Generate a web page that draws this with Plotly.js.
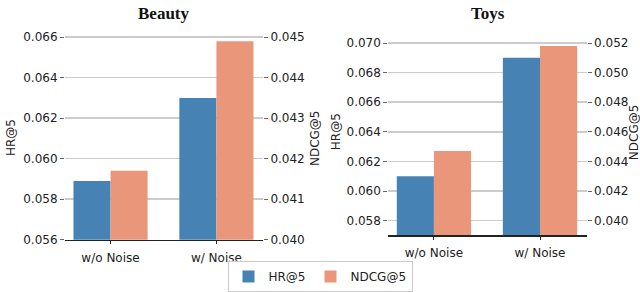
<!DOCTYPE html>
<html>
<head>
<meta charset="utf-8">
<script src="https://cdn.plot.ly/plotly-3.0.1.min.js"></script>
<style>html,body{margin:0;padding:0;background:#fff;overflow:hidden;}#chart{width:640px;height:292px;}</style>
</head>
<body>
<div id="chart"></div>
<script>
const categories = ['w/o Noise', 'w/ Noise'];
const datasets = ['Beauty', 'Toys'];
const beautyHR = [0.0589, 0.0630];
const beautyNDCG = [0.0417, 0.0449];
const toysHR = [0.0610, 0.0690];
const toysNDCG = [0.0447, 0.0518];
const seriesNames = ['HR@5', 'NDCG@5'];

const blue = '#4682B4';
const salmon = '#E9967A';
const bw = 0.35;

const traces = [
  {type:'bar', x:categories, y:beautyHR, name:seriesNames[0], xaxis:'x', yaxis:'y', marker:{color:blue}, width:bw, offset:-bw, legendgroup:'hr'},
  {type:'bar', x:categories, y:beautyNDCG, name:seriesNames[1], xaxis:'x', yaxis:'y2', marker:{color:salmon}, width:bw, offset:0, legendgroup:'nd'},
  {type:'bar', x:categories, y:toysHR, name:seriesNames[0], xaxis:'x2', yaxis:'y3', marker:{color:blue}, width:bw, offset:-bw, showlegend:false, legendgroup:'hr'},
  {type:'bar', x:categories, y:toysNDCG, name:seriesNames[1], xaxis:'x2', yaxis:'y4', marker:{color:salmon}, width:bw, offset:0, showlegend:false, legendgroup:'nd'}
];

const fontFam = 'DejaVu Sans, sans-serif';
const xCommon = {type:'category', range:[-0.43, 1.44], showline:true, linecolor:'#222', linewidth:1.5, ticks:'outside', ticklen:3, tickcolor:'#222', ticklabelstandoff:3, showgrid:false, zeroline:false, tickfont:{size:12, color:'#222'}};
const yLeft = {ticks:'outside', ticklen:4, tickcolor:'#666', showgrid:true, gridcolor:'#cccccc', gridwidth:1.5, zeroline:false, showline:false, tickformat:'.3f', tickfont:{size:12, color:'#222'}};
const yRight = {side:'right', ticks:'outside', ticklen:4, tickcolor:'#666', showgrid:false, zeroline:false, showline:false, tickformat:'.3f', tickfont:{size:12, color:'#222'}};

const axTitle = (txt, xpx, ypx) => ({text:txt, xref:'paper', yref:'paper', x:xpx/640, y:1-ypx/292, xanchor:'center', yanchor:'middle', textangle:-90, showarrow:false, font:{family:fontFam, size:12, color:'#222'}});
const panelTitle = (txt, xpx) => ({text:'<b>'+txt+'</b>', xref:'paper', yref:'paper', x:xpx/640, y:1-14/292, xanchor:'center', yanchor:'middle', showarrow:false, font:{family:'Liberation Serif, Times New Roman, serif', size:17, color:'#111'}});

const layout = {
  width:640, height:292,
  margin:{l:0, r:0, t:0, b:0},
  paper_bgcolor:'#fff', plot_bgcolor:'#fff',
  font:{family:fontFam, size:12, color:'#222'},
  barmode:'overlay',
  showlegend:true,
  legend:{orientation:'h', x:0.5, xanchor:'center', y:1-265/292, yanchor:'top', bordercolor:'#cccccc', borderwidth:1, font:{size:12}, traceorder:'normal'},
  xaxis: Object.assign({}, xCommon, {domain:[65/640, 263/640], anchor:'y'}),
  yaxis: Object.assign({}, yLeft, {domain:[1-243/292, 1-33/292], range:[0.056, 0.06623], dtick:0.002, tick0:0.056, anchor:'x'}),
  yaxis2: Object.assign({}, yRight, {overlaying:'y', anchor:'x', range:[0.040, 0.045115], dtick:0.001, tick0:0.040}),
  xaxis2: Object.assign({}, xCommon, {domain:[388.3/640, 586.7/640], anchor:'y3'}),
  yaxis3: Object.assign({}, yLeft, {domain:[1-238.7/292, 1-38.7/292], range:[0.057, 0.07033], dtick:0.002, tick0:0.058, anchor:'x2'}),
  yaxis4: Object.assign({}, yRight, {overlaying:'y3', anchor:'x2', range:[0.039, 0.05233], dtick:0.002, tick0:0.040}),
  annotations:[
    panelTitle(datasets[0], 164),
    panelTitle(datasets[1], 488),
    axTitle(seriesNames[0], 11, 140),
    axTitle(seriesNames[1], 315, 140),
    axTitle(seriesNames[0], 336, 134),
    axTitle(seriesNames[1], 634, 134)
  ]
};

Plotly.newPlot('chart', traces, layout, {displayModeBar:false, staticPlot:true});
</script>
</body>
</html>
